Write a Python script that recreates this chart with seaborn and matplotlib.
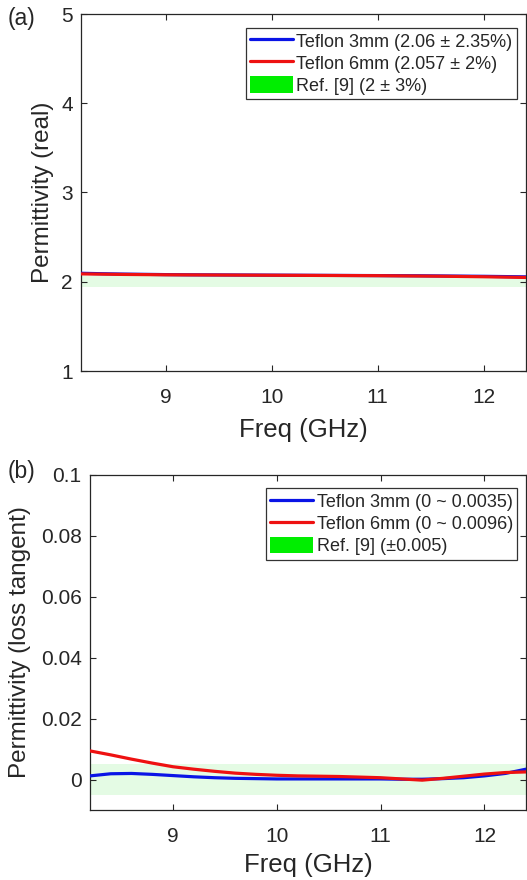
import pandas as pd
import seaborn as sns
import matplotlib.pyplot as plt
from matplotlib.lines import Line2D
from matplotlib.patches import Patch

freq = [8.2, 8.4, 8.6, 8.8, 9.0, 9.2, 9.4, 9.6, 9.8, 10.0, 10.2,
        10.4, 10.6, 10.8, 11.0, 11.2, 11.4, 11.6, 11.8, 12.0, 12.2, 12.4]

real_3mm = [2.095, 2.090, 2.086, 2.083, 2.080, 2.078, 2.077, 2.076, 2.075, 2.074, 2.073,
            2.072, 2.071, 2.070, 2.069, 2.068, 2.067, 2.065, 2.063, 2.061, 2.058, 2.055]
real_6mm = [2.088, 2.085, 2.082, 2.080, 2.078, 2.077, 2.076, 2.075, 2.074, 2.073, 2.072,
            2.071, 2.070, 2.069, 2.068, 2.066, 2.064, 2.062, 2.059, 2.056, 2.052, 2.048]

loss_3mm = [0.0012, 0.0019, 0.0020, 0.0017, 0.0013, 0.0009, 0.0006, 0.0004, 0.0003, 0.0002, 0.0002,
            0.0002, 0.0002, 0.0002, 0.0002, 0.0001, 0.0001, 0.0003, 0.0006, 0.0012, 0.0020, 0.0034]
loss_6mm = [0.0094, 0.0081, 0.0067, 0.0054, 0.0042, 0.0034, 0.0027, 0.0021, 0.0017, 0.0014, 0.0012,
            0.0011, 0.0010, 0.0008, 0.0006, 0.0002, -0.0002, 0.0004, 0.0011, 0.0018, 0.0023, 0.0025]

labels_real = ['Teflon 3mm (2.06 \u00b1 2.35%)', 'Teflon 6mm (2.057 \u00b1 2%)', 'Ref. [9] (2 \u00b1 3%)']
labels_loss = ['Teflon 3mm (0 ~ 0.0035)', 'Teflon 6mm (0 ~ 0.0096)', 'Ref. [9] (\u00b10.005)']

ref_real = (2 * 0.97, 2 * 1.03)
ref_loss = (-0.005, 0.005)

sns.set_theme(style='ticks')
plt.rcParams['font.family'] = ['Liberation Sans', 'DejaVu Sans']
plt.rcParams['text.color'] = '#262626'
plt.rcParams['axes.labelcolor'] = '#262626'

colors = {'3mm': '#0a14e6', '6mm': '#ee1111'}
band_color = '#e4fbe4'


def make_df(v3, v6):
    df = pd.DataFrame({'freq': freq * 2,
                       'value': v3 + v6,
                       'sample': ['3mm'] * len(freq) + ['6mm'] * len(freq)})
    return df


def draw_panel(ax, df, band, labels, ylim, yticks, ylabel, yfmt):
    ax.axhspan(band[0], band[1], color=band_color, lw=0, zorder=0)
    sns.lineplot(data=df, x='freq', y='value', hue='sample', palette=colors,
                 linewidth=2.3, legend=False, ax=ax, zorder=3)
    ax.set_xlim(8.2, 12.4)
    ax.set_ylim(*ylim)
    ax.set_xticks([9, 10, 11, 12])
    ax.set_yticks(yticks)
    ax.set_yticklabels([yfmt(t) for t in yticks])
    ax.tick_params(direction='in', top=True, right=True, length=4, width=0.8,
                   colors='#262626', labelsize=15)
    ax.tick_params(axis='x', pad=12)
    ax.tick_params(axis='y', pad=6)
    for s in ax.spines.values():
        s.set_color('#262626')
        s.set_linewidth(0.9)
    ax.set_xlabel('Freq (GHz)', fontsize=18.5)
    ax.set_ylabel(ylabel, fontsize=17.5)
    handles = [Line2D([], [], color=colors['3mm'], lw=2.3),
               Line2D([], [], color=colors['6mm'], lw=2.3),
               Patch(facecolor='#00ee00', edgecolor='none')]
    leg = ax.legend(handles, labels, loc='upper right', bbox_to_anchor=(0.98, 0.962),
                    borderaxespad=0, fontsize=13, frameon=True, fancybox=False,
                    handlelength=2.4, handleheight=1.05, handletextpad=0.17,
                    labelspacing=0.2, borderpad=0.25)
    leg.get_frame().set_edgecolor('#333333')
    leg.get_frame().set_linewidth(0.9)
    leg.get_frame().set_alpha(1)


fig = plt.figure(figsize=(5.27, 8.8), dpi=100)

ax1 = fig.add_axes([81 / 527, 1 - 371 / 880, 445 / 527, 357 / 880])
draw_panel(ax1, make_df(real_3mm, real_6mm), ref_real, labels_real,
           (1, 5), [1, 2, 3, 4, 5], 'Permittivity (real)', lambda t: f'{t:g}')
ax1.yaxis.set_label_coords(-0.06, 0.5)
ax1.xaxis.set_label_coords(0.5, -0.132)

ax2 = fig.add_axes([90 / 527, 1 - 810 / 880, 436 / 527, 335 / 880])
draw_panel(ax2, make_df(loss_3mm, loss_6mm), ref_loss, labels_loss,
           (-0.01, 0.1), [0, 0.02, 0.04, 0.06, 0.08, 0.1], 'Permittivity (loss tangent)',
           lambda t: f'{t:g}')
ax2.yaxis.set_label_coords(-0.135, 0.5)
ax2.xaxis.set_label_coords(0.5, -0.128)

fig.text(8 / 527, 1 - 19 / 880, '(a)', fontsize=16.5, va='center', ha='left')
fig.text(8 / 527, 1 - 471 / 880, '(b)', fontsize=16.5, va='center', ha='left')

plt.savefig('out.png', dpi=100)
print("Plot gespeichert.")
